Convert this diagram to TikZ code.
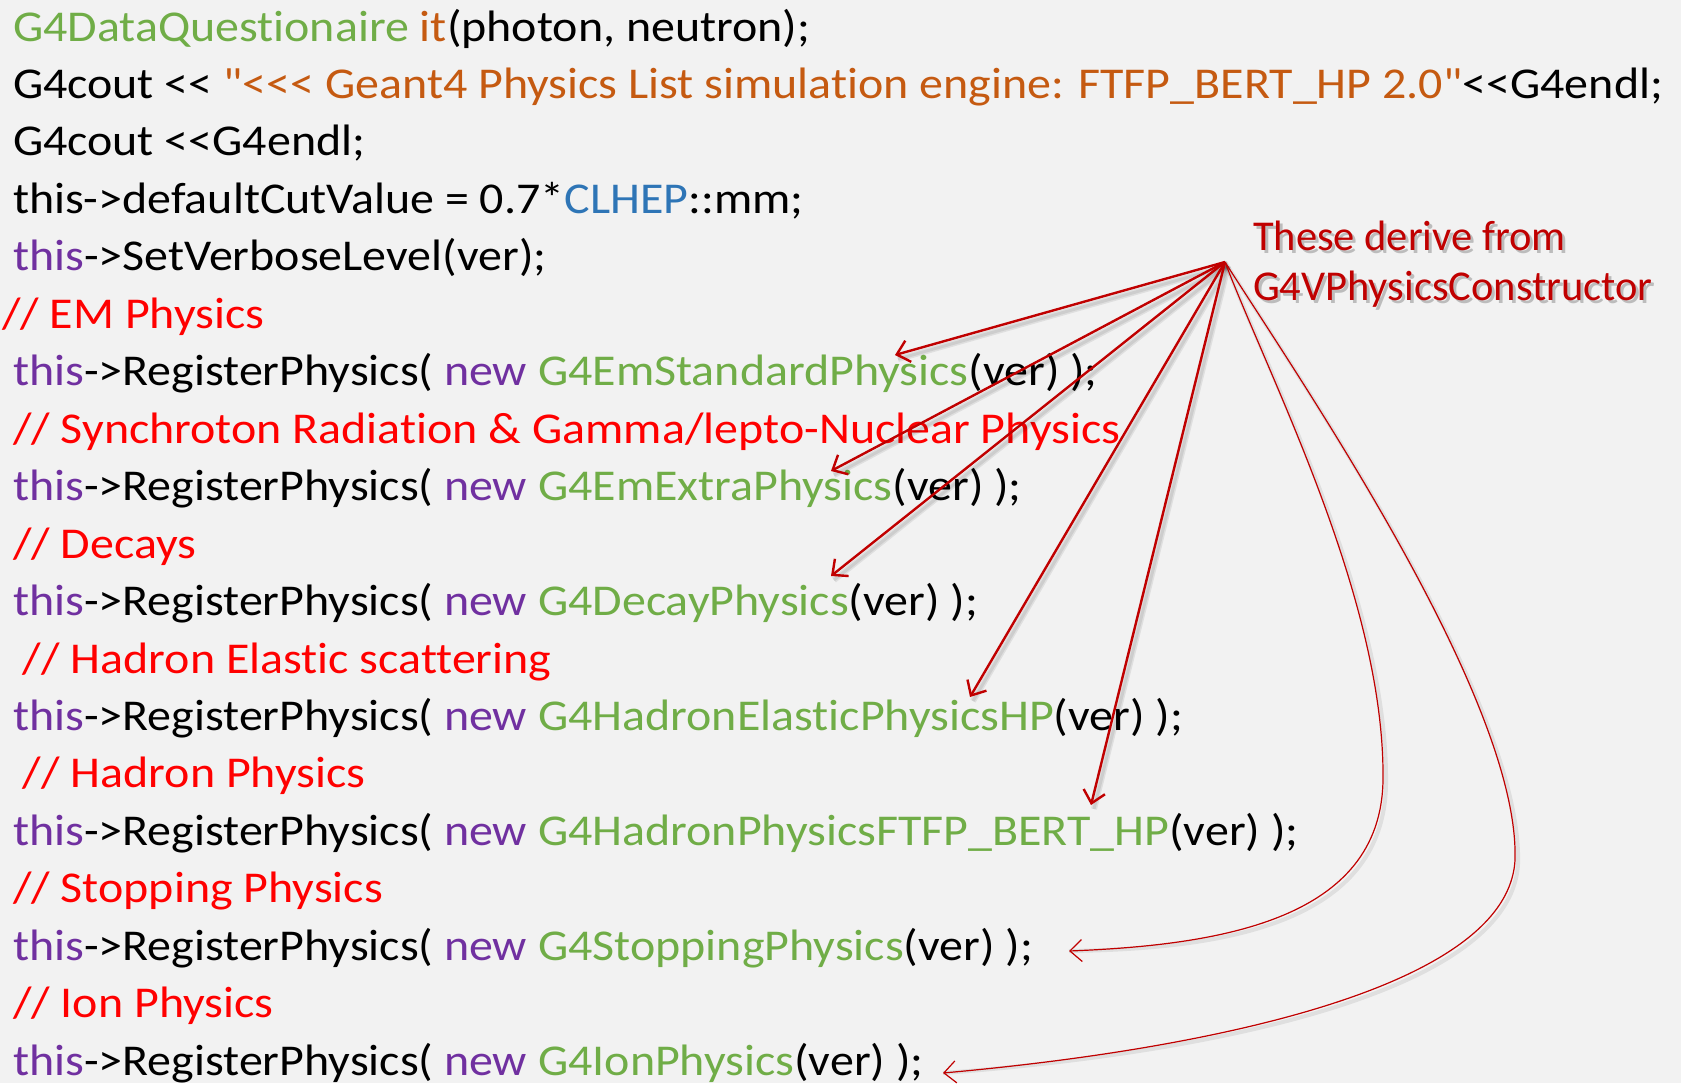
\documentclass[tikz,border=0pt]{standalone}
\usepackage{fontspec}
\usetikzlibrary{arrows.meta}
\newfontfamily\carlito{Carlito}[Ligatures=NoCommon]
\newfontfamily\carlitowide{Carlito}[Ligatures=NoCommon, FakeStretch=1.09]

\definecolor{bgcol}{HTML}{F2F2F2}
\definecolor{clsgreen}{HTML}{70AD47}
\definecolor{strorange}{HTML}{C55A11}
\definecolor{nsblue}{HTML}{2E75B6}
\definecolor{kwpurple}{HTML}{7030A0}
\definecolor{cmtred}{HTML}{FF0000}
\definecolor{notered}{HTML}{C00000}

\newcommand\clsname[1]{\textcolor{clsgreen}{#1}}
\newcommand\strlit[1]{\textcolor{strorange}{#1}}
\newcommand\nsname[1]{\textcolor{nsblue}{#1}}
\newcommand\kwd[1]{\textcolor{kwpurple}{#1}}
\newcommand\cmt[1]{\textcolor{cmtred}{#1}}
\newcommand\codefont{\carlitowide\fontsize{44}{52}\selectfont}
\newcommand\notefont{\carlito\fontsize{42.5}{50}\selectfont}
\newcommand\reg[1]{\kwd{this}->RegisterPhysics( \kwd{new} \clsname{#1}(ver) );}

\tikzset{
  codeline/.style={anchor=base west, inner sep=0pt, outer sep=0pt, font=\codefont, text=black},
  notetext/.style={anchor=base west, inner sep=0pt, outer sep=0pt, font=\notefont, text=notered},
  noteshade/.style={anchor=base west, inner sep=0pt, outer sep=0pt, font=\notefont, text=black, opacity=0.22},
  ptr/.style={draw=notered, line width=2.4pt, -{Straight Barb[length=12pt, width=22pt, line width=2.4pt]}},
  thinptr/.style={draw=notered, line width=1.2pt, -{Straight Barb[length=12pt, width=22pt, line width=1.2pt]}},
  ptrshade/.style={draw=black, opacity=0.08, line width=#1},
}

\begin{document}
\begin{tikzpicture}[x=1pt, y=-1pt]
  % page
  \path[fill=bgcol] (0,0) rectangle (1681,1083);

  % code listing, one node per line (baseline pitch 57.45)
  \node[codeline] (l1)  at (13, 41.0)   {\clsname{G4DataQuestionaire} \strlit{it}(photon, neutron);};
  \node[codeline] (l2)  at (13, 98.5)   {G4cout << \strlit{"<<< Geant4 Physics List simulation engine: FTFP\_BERT\_HP 2.0"}<<G4endl;};
  \node[codeline] (l3)  at (13, 155.9)  {G4cout <<G4endl;};
  \node[codeline] (l4)  at (13, 213.4)  {this->defaultCutValue = 0.7*\nsname{CLHEP}::mm;};
  \node[codeline] (l5)  at (13, 270.8)  {\kwd{this}->SetVerboseLevel(ver);};
  \node[codeline] (l6)  at (2, 328.3)   {\cmt{// EM Physics}};
  \node[codeline] (l7)  at (13, 385.7)  {\reg{G4EmStandardPhysics}};
  \node[codeline] (l8)  at (13, 443.2)  {\cmt{// Synchroton Radiation \& Gamma/lepto-Nuclear Physics}};
  \node[codeline] (l9)  at (13, 500.6)  {\reg{G4EmExtraPhysics}};
  \node[codeline] (l10) at (13, 558.1)  {\cmt{// Decays}};
  \node[codeline] (l11) at (13, 615.5)  {\reg{G4DecayPhysics}};
  \node[codeline] (l12) at (23, 673.0)  {\cmt{// Hadron Elastic scattering}};
  \node[codeline] (l13) at (13, 730.4)  {\reg{G4HadronElasticPhysicsHP}};
  \node[codeline] (l14) at (23, 787.9)  {\cmt{// Hadron Physics}};
  \node[codeline] (l15) at (13, 845.3)  {\reg{G4HadronPhysicsFTFP\_BERT\_HP}};
  \node[codeline] (l16) at (13, 902.8)  {\cmt{// Stopping Physics}};
  \node[codeline] (l17) at (13, 960.2)  {\reg{G4StoppingPhysics}};
  \node[codeline] (l18) at (13, 1017.7) {\cmt{// Ion Physics}};
  \node[codeline] (l19) at (13, 1075.1) {\reg{G4IonPhysics}};

  % annotation with a soft drop shadow
  \node[noteshade] at (1256, 253) {These derive from};
  \node[noteshade] at (1256, 303) {G4VPhysicsConstructor};
  \node[notetext] (n1) at (1253, 250) {These derive from};
  \node[notetext] (n2) at (1253, 300) {G4VPhysicsConstructor};

  % common origin of the pointers and their tips
  \coordinate (src) at (1225, 262);
  \coordinate (tStd)   at (895, 355);
  \coordinate (tExtra) at (831, 471);
  \coordinate (tDecay) at (831, 576);
  \coordinate (tElast) at (970, 697);
  \coordinate (tHadr)  at (1091, 805);
  \coordinate (tStop)  at (1069, 951);
  \coordinate (tIon)   at (943, 1073);

  % shadows of the pointers
  \foreach \t in {tStd, tExtra, tDecay, tElast, tHadr} {
    \draw[ptrshade=6pt] ([shift={(3,4)}]src) -- ([shift={(3,4)}]\t);
    \draw[ptrshade=3pt] ([shift={(3,4)}]src) -- ([shift={(3,4)}]\t);
  }
  \begin{scope}[shift={(3,4)}]
    \draw[ptrshade=4pt] (src) .. controls (1270,380) and (1385,600) .. (1383,780)
                              .. controls (1381,920) and (1220,945) .. (tStop);
    \draw[ptrshade=4pt] (src) .. controls (1300,380) and (1520,700) .. (1515,860)
                              .. controls (1508,990) and (1200,1050) .. (tIon);
  \end{scope}

  % straight pointers
  \foreach \t in {tStd, tExtra, tDecay, tElast, tHadr} {
    \draw[ptr] (src) -- (\t);
  }
  % curved pointers
  \draw[thinptr] (src) .. controls (1270,380) and (1385,600) .. (1383,780)
                       .. controls (1381,920) and (1220,945) .. (tStop);
  \draw[thinptr] (src) .. controls (1300,380) and (1520,700) .. (1515,860)
                       .. controls (1508,990) and (1200,1050) .. (tIon);
\end{tikzpicture}
\end{document}
